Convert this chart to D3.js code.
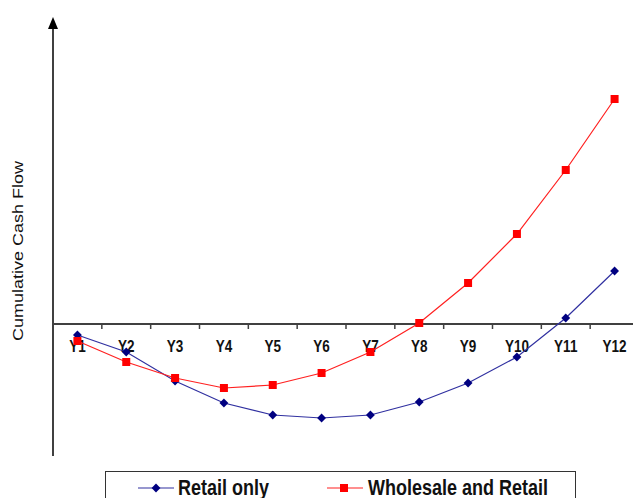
<!DOCTYPE html>
<html>
<head>
<meta charset="utf-8">
<script src="https://cdn.jsdelivr.net/npm/d3@7"></script>
<style>
  body { margin: 0; background: #fff; }
  svg { display: block; font-family: Arial, "Liberation Sans", sans-serif; }
</style>
</head>
<body>
<div id="chart"></div>
<script>
// years along the x axis
const years = ['Y1', 'Y2', 'Y3', 'Y4', 'Y5', 'Y6', 'Y7', 'Y8', 'Y9', 'Y10', 'Y11', 'Y12'];
// cumulative cash flow (relative units)
const retailOnly = [-1.1, -2.8, -5.7, -7.9, -9.1, -9.4, -9.1, -7.8, -5.9, -3.3, 0.6, 5.3];
const wholesaleRetail = [-1.7, -3.8, -5.4, -6.4, -6.1, -4.9, -2.8, 0.1, 4.1, 9.0, 15.4, 22.5];

const width = 633, height = 498;
const svg = d3.select('#chart').append('svg')
  .attr('width', width).attr('height', height);

const x = d3.scaleBand().domain(years).range([53, 639]);
const y = d3.scaleLinear().domain([-13.1, 30.4]).range([455, 20]);
const cx = d => x(d) + x.bandwidth() / 2;

// x axis through zero
const axisY = y(0);
svg.append('line')
  .attr('x1', 53).attr('x2', width).attr('y1', axisY).attr('y2', axisY)
  .attr('stroke', '#404040').attr('stroke-width', 2);
svg.append('g')
  .selectAll('line')
  .data(years.slice(1))
  .enter().append('line')
  .attr('x1', d => x(d)).attr('x2', d => x(d))
  .attr('y1', axisY).attr('y2', axisY + 5)
  .attr('stroke', '#404040').attr('stroke-width', 1.5);

// y axis with arrow
svg.append('line')
  .attr('x1', 53).attr('x2', 53).attr('y1', 26).attr('y2', 456)
  .attr('stroke', '#404040').attr('stroke-width', 2);
svg.append('path')
  .attr('d', 'M53,17 L58,29 L48,29 Z')
  .attr('fill', '#000');

// category labels (the original is slightly stretched vertically)
svg.append('g')
  .selectAll('text')
  .data(years)
  .enter().append('text')
  .attr('transform', d => `translate(${cx(d)},352) scale(1,1.2)`)
  .attr('text-anchor', 'middle')
  .attr('font-size', 13.5)
  .attr('font-weight', 700)
  .attr('fill', '#111')
  .text(d => d);

// y axis title
svg.append('text')
  .attr('transform', 'translate(23,251) rotate(-90) scale(1.2,1)')
  .attr('text-anchor', 'middle')
  .attr('font-size', 15)
  .attr('fill', '#111')
  .text('Cumulative Cash Flow');

const line = d3.line().x((d, i) => cx(years[i])).y(d => y(d));

// Retail only
svg.append('path')
  .datum(retailOnly)
  .attr('d', line)
  .attr('fill', 'none')
  .attr('stroke', '#3030a0')
  .attr('stroke-width', 1.2);
svg.append('g')
  .selectAll('path')
  .data(retailOnly)
  .enter().append('path')
  .attr('d', d3.symbol(d3.symbolDiamond2, 50))
  .attr('transform', (d, i) => `translate(${cx(years[i])},${y(d)})`)
  .attr('fill', '#000080');

// Wholesale and Retail
svg.append('path')
  .datum(wholesaleRetail)
  .attr('d', line)
  .attr('fill', 'none')
  .attr('stroke', '#ff2020')
  .attr('stroke-width', 1.2);
svg.append('g')
  .selectAll('rect')
  .data(wholesaleRetail)
  .enter().append('rect')
  .attr('x', (d, i) => cx(years[i]) - 4)
  .attr('y', d => y(d) - 4)
  .attr('width', 8).attr('height', 8)
  .attr('fill', '#ff0000');

// legend
const legend = svg.append('g');
legend.append('rect')
  .attr('x', 105.5).attr('y', 471.5)
  .attr('width', 470).attr('height', 40)
  .attr('fill', '#fff').attr('stroke', '#333').attr('stroke-width', 1);

legend.append('line')
  .attr('x1', 138).attr('x2', 174).attr('y1', 488).attr('y2', 488)
  .attr('stroke', '#3030a0').attr('stroke-width', 1.2);
legend.append('path')
  .attr('d', d3.symbol(d3.symbolDiamond2, 50))
  .attr('transform', 'translate(156,488)')
  .attr('fill', '#000080');
legend.append('text')
  .attr('transform', 'translate(178,495) scale(1,1.2)')
  .attr('font-size', 18).attr('font-weight', 700).attr('fill', '#111')
  .text('Retail only');

legend.append('line')
  .attr('x1', 327).attr('x2', 363).attr('y1', 488).attr('y2', 488)
  .attr('stroke', '#ff2020').attr('stroke-width', 1.2);
legend.append('rect')
  .attr('x', 340).attr('y', 484).attr('width', 8).attr('height', 8)
  .attr('fill', '#ff0000');
legend.append('text')
  .attr('transform', 'translate(368,495) scale(1,1.2)')
  .attr('font-size', 18).attr('font-weight', 700).attr('fill', '#111')
  .text('Wholesale and Retail');
</script>
</body>
</html>
